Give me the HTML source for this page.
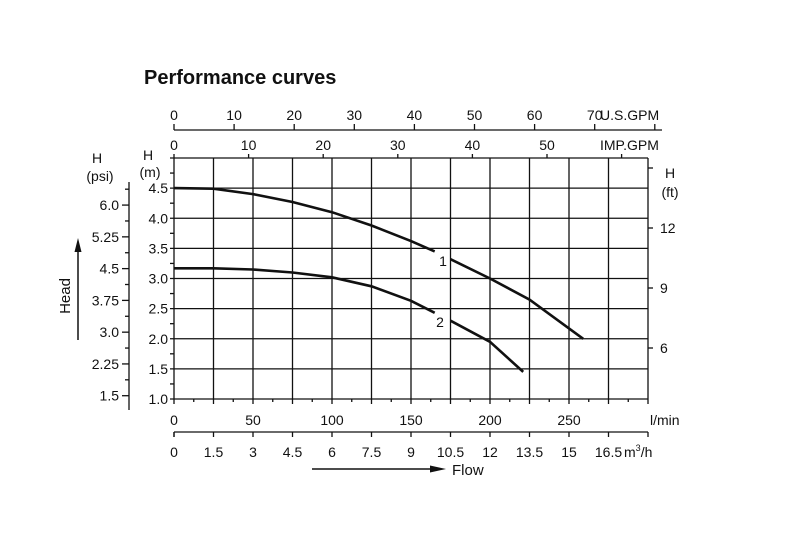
<!DOCTYPE html>
<html><head><meta charset="utf-8"><style>
body{margin:0;background:#fff;}
svg text{font-family:"Liberation Sans",sans-serif;fill:#111;}
</style></head><body>
<svg width="800" height="549" viewBox="0 0 800 549">
<text x="144" y="84" font-size="20" font-weight="bold">Performance curves</text>
<g id="grid"></g>
<g id="axes"></g>
<g id="curves"></g>
<text transform="translate(70,296) rotate(-90)" font-size="15" text-anchor="middle">Head</text>
<line x1="78" y1="340" x2="78" y2="250" stroke="#111" stroke-width="1.5"/>
<polygon points="78,238 74.5,252 81.5,252" fill="#111"/>
<line x1="312" y1="469" x2="432" y2="469" stroke="#111" stroke-width="1.5"/>
<polygon points="446,469 430,465.5 430,472.5" fill="#111"/>
<text x="452" y="475" font-size="15">Flow</text>
</svg>
<script>
const flowLmin=[0,25,50,75,100,125,150,165,175,200,225,259];
const curve1Head=[4.5,4.49,4.4,4.27,4.1,3.88,3.62,3.45,3.32,3.0,2.65,2.0];
const curve2Flow=[0,25,50,75,100,125,150,165,175,200,221];
const curve2Head=[3.17,3.17,3.15,3.1,3.02,2.87,2.63,2.43,2.3,1.95,1.45];
const mTicks=[1.0,1.5,2.0,2.5,3.0,3.5,4.0,4.5];
const psiTicks=["1.5","2.25","3.0","3.75","4.5","5.25","6.0"];
const ftTicks=[6,9,12];
const lminTicks=[0,50,100,150,200,250];
const m3hTicks=["0","1.5","3","4.5","6","7.5","9","10.5","12","13.5","15","16.5"];
const usgpmTicks=[0,10,20,30,40,50,60,70];
const impTicks=[0,10,20,30,40,50];

const NS="http://www.w3.org/2000/svg";
const L=174,R=648,T=158,B=399;
const X=q=>L+q*(R-L)/300;
const Y=m=>B-(m-1)*(B-T)/4;
function el(p,tag,a){const e=document.createElementNS(NS,tag);for(const k in a)e.setAttribute(k,a[k]);p.appendChild(e);return e;}
const grid=document.getElementById('grid'),axes=document.getElementById('axes'),cv=document.getElementById('curves');
function ln(p,x1,y1,x2,y2,w){return el(p,'line',{x1,y1,x2,y2,stroke:'#111','stroke-width':w||1.3});}
function tx(p,x,y,s,anchor,fs){const t=el(p,'text',{x,y,'font-size':fs||14,'text-anchor':anchor||'middle'});t.textContent=s;return t;}

for(let q=0;q<=300;q+=25){const g=ln(grid,X(q),T,X(q),B+5);

}
for(let m=1;m<=5.001;m+=0.5){const g=ln(grid,L-4,Y(m),R,Y(m));

}
for(let q=12.5;q<300;q+=25){ln(grid,X(q),B,X(q),B+3);}
for(let m=1.25;m<5;m+=0.5){ln(grid,L-4,Y(m),L,Y(m));}
// m labels
mTicks.forEach(m=>{const t=tx(axes,L-6,Y(m)+5,m.toFixed(1),'end');

});
tx(axes,148,160,'H');tx(axes,150,177,'(m)');
// psi axis
ln(axes,129,182,129,410);
psiTicks.forEach(p=>{const y=Y(parseFloat(p)*0.7031);ln(axes,122,y,129,y);
const t=tx(axes,119,y+5,p,'end');


const y2=Y((parseFloat(p)+0.375)*0.7031);if(y2>184)ln(axes,125,y2,129,y2);});
tx(axes,97,163,'H');tx(axes,100,181,'(psi)');
// ft axis
const FY=f=>348-(f-6)*20;
[6,9,12,15].forEach(f=>ln(axes,R,FY(f),R+5,FY(f)));
ftTicks.forEach(f=>{const t=tx(axes,R+12,FY(f)+5,String(f),'start');

});
tx(axes,670,178,'H');tx(axes,670,197,'(ft)');
// l/min labels
lminTicks.forEach(q=>{const t=tx(axes,X(q),425,String(q));

});
tx(axes,650,425,'l/min','start');
// m3/h axis
ln(axes,L,432,R,432);
m3hTicks.forEach((s,i)=>{const x=X(i*25);ln(axes,x,432,x,437);
const t=tx(axes,x,457,s);

});
ln(axes,L,432,L,437);ln(axes,R,432,R,437);
const mu=tx(axes,624,457,'m','start');const sup=el(mu,'tspan',{dy:-6,'font-size':9});sup.textContent='3';const r=el(mu,'tspan',{dy:6});r.textContent='/h';
// US GPM
const UX=g=>L+g*6.01;
ln(axes,L,130,662,130);
for(let g=0;g<=80;g+=10){if(UX(g)<=663)ln(axes,UX(g),124,UX(g),130);}
usgpmTicks.forEach(g=>{const t=tx(axes,UX(g),120,String(g));

});
tx(axes,600,120,'U.S.GPM','start');
// IMP GPM
const IX=g=>L+g*7.46;
for(let g=0;g<=60;g+=10){ln(axes,IX(g),T-4,IX(g),T);}
impTicks.forEach(g=>{const t=tx(axes,IX(g),150,String(g));

});
tx(axes,600,150,'IMP.GPM','start');
// curves
function path(fx,hy){return fx.map((q,i)=>(i?'L':'M')+X(q).toFixed(1)+','+Y(hy[i]).toFixed(1)).join(' ');}
function seg(fx,hy,a,b){return path(fx.slice(a,b),hy.slice(a,b));}
const c1a=el(cv,'path',{d:seg(flowLmin,curve1Head,0,8),fill:'none',stroke:'#111','stroke-width':2.6});


const c1b=el(cv,'path',{d:seg(flowLmin,curve1Head,8,12),fill:'none',stroke:'#111','stroke-width':2.6});


const c2a=el(cv,'path',{d:seg(curve2Flow,curve2Head,0,8),fill:'none',stroke:'#111','stroke-width':2.6});


const c2b=el(cv,'path',{d:seg(curve2Flow,curve2Head,8,11),fill:'none',stroke:'#111','stroke-width':2.6});


const l1=tx(cv,443,266,'1');


const l2=tx(cv,440,327,'2');


</script>
</body></html>
